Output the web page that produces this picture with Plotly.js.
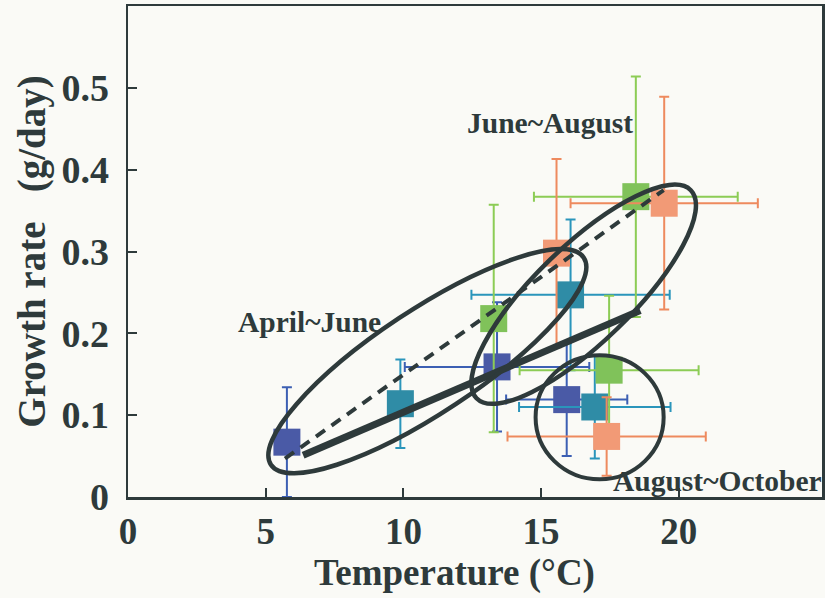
<!DOCTYPE html>
<html>
<head>
<meta charset="utf-8">
<script src="https://cdn.plot.ly/plotly-3.0.1.min.js"></script>
<style>
html,body{margin:0;padding:0;background:#fafaf6;}
#chart{width:825px;height:598px;}
</style>
</head>
<body>
<div id="chart"></div>
<script>
// ---- data ----
// four colour series, each with three periods (April~June, June~August, August~October)
const blueX   = [5.77, 13.4, 15.93];
const blueY   = [0.067, 0.159, 0.119];
const blueEX  = [0, 3.35, 2.2];
const blueEY  = [0.067, 0.079, 0.069];

const tealX   = [9.89, 16.07, 16.95];
const tealY   = [0.114, 0.247, 0.110];
const tealEX  = [0, 3.6, 2.75];
const tealEY  = [0.054, 0.092, 0.063];

const greenX  = [13.28, 18.44, 17.47];
const greenY  = [0.218, 0.367, 0.155];
const greenEX = [0, 3.7, 3.25];
const greenEY = [0.139, 0.147, 0.091];

const orangeX  = [15.56, 19.47, 17.38];
const orangeY  = [0.298, 0.359, 0.074];
const orangeEX = [0, 3.4, 3.6];
const orangeEY = [0.115, 0.130, 0.048];

// trend lines
const dashX  = [5.7, 19.45];
const dashY  = [0.047, 0.375];
const solidX = [6.36, 18.6];
const solidY = [0.051, 0.228];

// group ellipses: centre, major semi-axis vector, minor semi-axis vector (data units)
const ellAprJunC = [10.87, 0.1660];
const ellAprJunA = [5.680, 0.1265];
const ellAprJunB = [-1.030, 0.0525];
const ellJunAugC = [16.545, 0.2478];
const ellJunAugA = [3.891, 0.1271];
const ellJunAugB = [-1.218, 0.0422];
// circle (August~October): x0, x1, y0, y1
const circAugOct = [14.80, 19.45, 0.0216, 0.1732];

// axis ticks
const xTicks = [0, 5, 10, 15, 20];
const xTickText = ['0', '5', '10', '15', '20'];
const yTicks = [0, 0.1, 0.2, 0.3, 0.4, 0.5];
const yTickText = ['0', '0.1', '0.2', '0.3', '0.4', '0.5'];

// titles
const xTitle = 'Temperature (\u00b0C)';
const yTitle = 'Growth rate\u00a0\u00a0\u00a0(g/day)';

// group labels
const labelText = ['April~June', 'June~August', 'August~October'];
const labelX = [6.58, 15.31, 21.42];
const labelY = [0.2135, 0.4567, 0.0192];

// ---- drawing ----
const ink = '#2e3a3b';
const serif = '"Liberation Serif", "Times New Roman", serif';

function series(x, y, ex, ey, fill, bar) {
  return {
    type: 'scatter', mode: 'markers', x: x, y: y,
    marker: {symbol: 'square', size: 27, color: fill, line: {width: 0}},
    error_x: {type: 'data', array: ex, visible: true, color: bar, thickness: 2, width: 5},
    error_y: {type: 'data', array: ey, visible: true, color: bar, thickness: 2, width: 5},
    hoverinfo: 'x+y', showlegend: false, cliponaxis: true
  };
}

function ellipsePath(c, a, b) {
  const k = 0.5523;
  const p = (s1, s2) => [c[0] + s1 * a[0] + s2 * b[0], c[1] + s1 * a[1] + s2 * b[1]];
  const f = q => q[0].toFixed(4) + ',' + q[1].toFixed(5);
  return 'M' + f(p(1, 0)) +
    ' C' + f(p(1, k)) + ' ' + f(p(k, 1)) + ' ' + f(p(0, 1)) +
    ' C' + f(p(-k, 1)) + ' ' + f(p(-1, k)) + ' ' + f(p(-1, 0)) +
    ' C' + f(p(-1, -k)) + ' ' + f(p(-k, -1)) + ' ' + f(p(0, -1)) +
    ' C' + f(p(k, -1)) + ' ' + f(p(1, -k)) + ' ' + f(p(1, 0)) + ' Z';
}

const data = [
  series(blueX, blueY, blueEX, blueEY, '#4a5aa6', '#3c5fb3'),
  series(tealX, tealY, tealEX, tealEY, '#2f8ca6', '#2a95bb'),
  series(greenX, greenY, greenEX, greenEY, '#80c25a', '#8ccc55'),
  series(orangeX, orangeY, orangeEX, orangeEY, '#f29a76', '#ee8a5e'),
  {type: 'scatter', mode: 'lines', x: dashX, y: dashY,
   line: {color: ink, width: 4, dash: '11px,8px'}, showlegend: false, hoverinfo: 'skip'},
  {type: 'scatter', mode: 'lines', x: solidX, y: solidY,
   line: {color: ink, width: 7}, showlegend: false, hoverinfo: 'skip'}
];

const shapes = [
  {type: 'path', xref: 'x', yref: 'y', path: ellipsePath(ellAprJunC, ellAprJunA, ellAprJunB),
   line: {color: ink, width: 4.5}, layer: 'above'},
  {type: 'path', xref: 'x', yref: 'y', path: ellipsePath(ellJunAugC, ellJunAugA, ellJunAugB),
   line: {color: ink, width: 4.5}, layer: 'above'},
  {type: 'circle', xref: 'x', yref: 'y', x0: circAugOct[0], x1: circAugOct[1],
   y0: circAugOct[2], y1: circAugOct[3], line: {color: ink, width: 4}, layer: 'above'}
];

const annotations = labelText.map((t, i) => ({
  text: t, x: labelX[i], y: labelY[i], xref: 'x', yref: 'y', showarrow: false,
  font: {family: serif, size: 29.5, color: ink, weight: 'bold'}
}));
// x-axis title, placed slightly left of the plot centre as in the original
annotations.push({
  text: xTitle, xref: 'paper', yref: 'paper', x: 0.471, y: -0.155,
  xanchor: 'center', yanchor: 'middle', showarrow: false,
  font: {family: serif, size: 37, color: ink, weight: 'bold'}
});

const layout = {
  width: 825, height: 598,
  margin: {l: 128, r: 3, t: 6, b: 101},
  paper_bgcolor: '#fafaf6', plot_bgcolor: '#fafaf6',
  showlegend: false,
  xaxis: {
    range: [0, 25.2], tickvals: xTicks, ticktext: xTickText,
    ticks: 'inside', ticklen: 9, tickwidth: 2, tickcolor: ink,
    showline: true, linecolor: ink, linewidth: 2.5, mirror: true,
    showgrid: false, zeroline: false,
    tickfont: {family: serif, size: 37, color: ink, weight: 'bold'}
  },
  yaxis: {
    range: [0, 0.6], tickvals: yTicks, ticktext: yTickText,
    ticks: 'inside', ticklen: 9, tickwidth: 2, tickcolor: ink,
    showline: true, linecolor: ink, linewidth: 2.5, mirror: true,
    showgrid: false, zeroline: false, ticklabelstandoff: 9,
    tickfont: {family: serif, size: 38, color: ink, weight: 'bold'},
    title: {text: yTitle, standoff: 4,
            font: {family: serif, size: 39, color: ink, weight: 'bold'}}
  },
  shapes: shapes,
  annotations: annotations
};

Plotly.newPlot('chart', data, layout, {displayModeBar: false, staticPlot: true});
</script>
</body>
</html>
